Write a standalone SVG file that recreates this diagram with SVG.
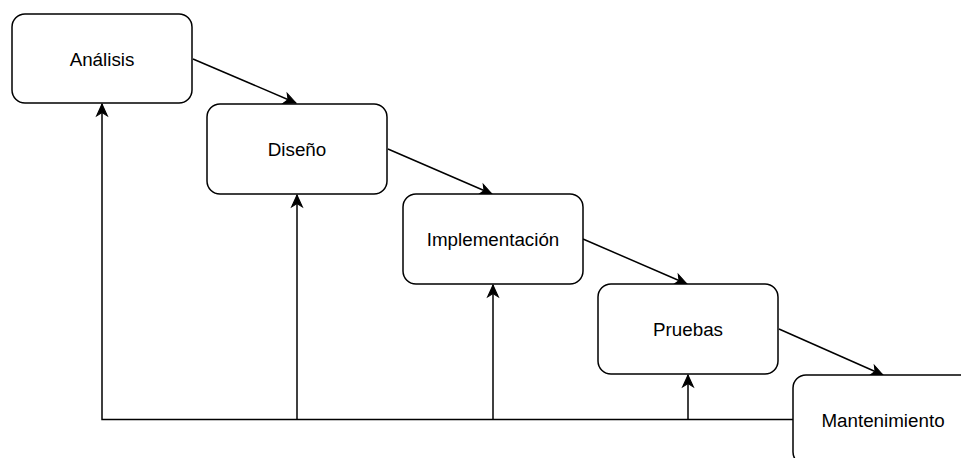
<svg xmlns="http://www.w3.org/2000/svg" width="961" height="458" viewBox="0 0 961 458">
<style>
.box{fill:#fff;stroke:#000;stroke-width:1.5}
.lbl{font-family:"Liberation Sans",Arial,sans-serif;font-size:18.8px;fill:#000;text-anchor:middle;dominant-baseline:central}
.edge{fill:none;stroke:#000;stroke-width:1.5}
</style>
<defs>
<marker id="arr" markerUnits="userSpaceOnUse" markerWidth="14" markerHeight="14" viewBox="-12 -6 13 12" refX="0" refY="0" orient="auto" overflow="visible">
<path d="M0,0 L-11,-5 L-8,0 L-11,5 Z" fill="#000" stroke="#000" stroke-width="1"/>
</marker>
</defs>
<rect width="961" height="458" fill="#fff"/>
<g id="connectors">
<path class="edge" d="M193,59 L296,103" marker-end="url(#arr)"/>
<path class="edge" d="M388,149 L492,194" marker-end="url(#arr)"/>
<path class="edge" d="M583,239 L687,284" marker-end="url(#arr)"/>
<path class="edge" d="M779,329 L883,375" marker-end="url(#arr)"/>
<path class="edge" d="M793,419.5 L102,419.5 L102,104" marker-end="url(#arr)"/>
<path class="edge" d="M297,419.5 L297,195" marker-end="url(#arr)"/>
<path class="edge" d="M493,419.5 L493,285" marker-end="url(#arr)"/>
<path class="edge" d="M688,419.5 L688,375" marker-end="url(#arr)"/>
</g>
<g id="analisis"><rect class="box" x="12" y="14" width="180" height="89" rx="13"/><text class="lbl" x="102" y="59">Análisis</text></g>
<g id="diseno"><rect class="box" x="207" y="104" width="180" height="90" rx="13"/><text class="lbl" x="297" y="149">Diseño</text></g>
<g id="implementacion"><rect class="box" x="403" y="194" width="180" height="90" rx="13"/><text class="lbl" x="493" y="239">Implementación</text></g>
<g id="pruebas"><rect class="box" x="598" y="284" width="180" height="90" rx="13"/><text class="lbl" x="688" y="329">Pruebas</text></g>
<g id="mantenimiento"><rect class="box" x="793" y="375" width="180" height="90" rx="13"/><text class="lbl" x="883" y="420">Mantenimiento</text></g>
</svg>
